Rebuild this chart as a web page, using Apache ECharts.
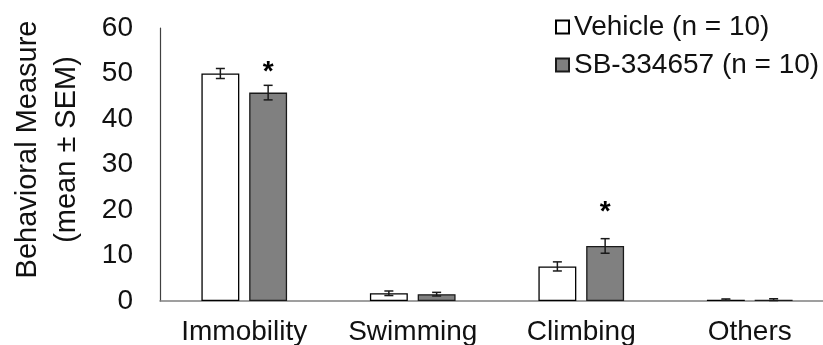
<!DOCTYPE html>
<html>
<head>
<meta charset="utf-8">
<script src="https://cdn.jsdelivr.net/npm/echarts@6/dist/echarts.min.js"></script>
<style>
html,body{margin:0;padding:0;background:#fff;}
#chart{width:823px;height:345px;}
</style>
</head>
<body>
<div id="chart"></div>
<script>
const categories = ['Immobility', 'Swimming', 'Climbing', 'Others'];
const vehicleMean = [50.0, 1.7, 7.6, 0.3];
const vehicleSem = [1.1, 0.5, 1.0, 0.15];
const sbMean = [45.8, 1.5, 12.1, 0.3];
const sbSem = [1.6, 0.4, 1.6, 0.2];
const sbStar = [51.2, null, 20.4, null];
const seriesNames = ['Vehicle (n = 10)', 'SB-334657 (n = 10)'];
const yMin = 0, yMax = 60, yInterval = 10;

const FONT = '"Liberation Sans", Arial, sans-serif';
const BAR_W = 0.225;   // fraction of band
const BAR_GAP = 0.26;  // fraction of bar width

function errRender(sign) {
  return function (params, api) {
    const i = api.value(0), m = api.value(1), s = api.value(2);
    const band = api.size([1, 0])[0];
    const bw = band * BAR_W;
    const off = sign * (bw + bw * BAR_GAP) / 2;
    const hi = api.coord([i, m + s]);
    const lo = api.coord([i, Math.max(m - s, 0)]);
    const cx = hi[0] + off;
    const cap = 4.5;
    const st = { stroke: '#1a1a1a', lineWidth: 1.5 };
    return {
      type: 'group',
      children: [
        { type: 'line', shape: { x1: cx, y1: hi[1], x2: cx, y2: lo[1] }, style: st },
        { type: 'line', shape: { x1: cx - cap, y1: hi[1], x2: cx + cap, y2: hi[1] }, style: st },
        { type: 'line', shape: { x1: cx - cap, y1: lo[1], x2: cx + cap, y2: lo[1] }, style: st }
      ]
    };
  };
}

function starRender(params, api) {
  const i = api.value(0), v = api.value(1);
  const band = api.size([1, 0])[0];
  const bw = band * BAR_W;
  const off = (bw + bw * BAR_GAP) / 2;
  const p = api.coord([i, v]);
  return {
    type: 'text',
    style: {
      x: p[0] + off, y: p[1] + 4,
      text: '*',
      font: 'bold 28px ' + FONT,
      fill: '#000',
      align: 'center',
      verticalAlign: 'middle'
    }
  };
}

const chart = echarts.init(document.getElementById('chart'), null, { renderer: 'canvas' });
chart.setOption({
  animation: false,
  backgroundColor: '#fff',
  textStyle: { fontFamily: FONT },
  grid: { left: 160, right: -11, top: 28, bottom: 44, containLabel: false, outerBoundsMode: 'none' },
  legend: {
    orient: 'vertical',
    left: 550,
    top: 8,
    itemWidth: 13,
    itemHeight: 13,
    itemGap: 10,
    icon: 'rect',
    textStyle: { fontSize: 28, color: '#111', fontFamily: FONT },
    data: seriesNames
  },
  xAxis: {
    type: 'category',
    data: categories,
    axisLine: { show: true, lineStyle: { color: '#808080', width: 1.5 } },
    axisTick: { show: false },
    axisLabel: { fontSize: 28, color: '#111', margin: 17, fontFamily: FONT },
    splitLine: { show: false }
  },
  yAxis: {
    type: 'value',
    min: yMin,
    max: yMax,
    interval: yInterval,
    name: 'Behavioral Measure\n(mean ± SEM)',
    nameLocation: 'middle',
    nameRotate: 90,
    nameGap: 74,
    nameTextStyle: { fontSize: 29, lineHeight: 39, color: '#111', fontFamily: FONT, padding: [0, 0, 0, 30] },
    axisLine: { show: true, lineStyle: { color: '#404040', width: 1.2 } },
    axisTick: { show: false },
    axisLabel: { fontSize: 28, color: '#111', margin: 27, fontFamily: FONT },
    splitLine: { show: false }
  },
  series: [
    {
      name: seriesNames[0],
      type: 'bar',
      data: vehicleMean,
      barWidth: (BAR_W * 100) + '%',
      barGap: (BAR_GAP * 100) + '%',
      itemStyle: { color: '#ffffff', borderColor: '#000', borderWidth: 1.3 }
    },
    {
      name: seriesNames[1],
      type: 'bar',
      data: sbMean,
      barWidth: (BAR_W * 100) + '%',
      barGap: (BAR_GAP * 100) + '%',
      itemStyle: { color: '#808080', borderColor: '#1a1a1a', borderWidth: 1.3 }
    },
    {
      type: 'custom',
      renderItem: errRender(-1),
      data: vehicleMean.map((m, i) => [i, m, vehicleSem[i]]),
      z: 10, silent: true
    },
    {
      type: 'custom',
      renderItem: errRender(1),
      data: sbMean.map((m, i) => [i, m, sbSem[i]]),
      z: 10, silent: true
    },
    {
      type: 'custom',
      renderItem: starRender,
      data: sbStar.map((v, i) => [i, v]).filter(d => d[1] !== null),
      z: 11, silent: true
    }
  ]
});
</script>
</body>
</html>
